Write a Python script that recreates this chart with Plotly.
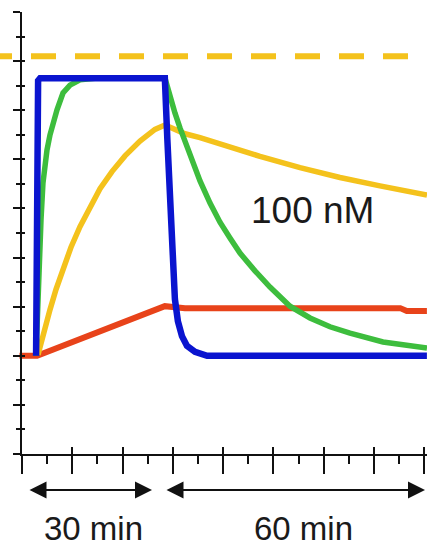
import plotly.graph_objects as go

# Time (min) and response (arbitrary units) for each analyte trace
blue_t = [2.8, 3.0, 3.2, 3.6, 28.4, 28.9, 29.4, 29.9, 30.4, 31.0, 31.8, 32.8, 34.4, 36.8, 80.5]
blue_r = [2.0, 7.4, 7.6, 7.65, 7.65, 6.4, 5.2, 3.95, 3.15, 2.7, 2.4, 2.2, 2.08, 2.0, 2.0]

green_t = [2.78, 2.98, 3.18, 3.38, 3.58, 3.78, 4.17, 4.57, 4.97, 5.57, 6.16, 6.96,
           8.15, 9.54, 11.53, 14.51, 28.43,
           29.42, 30.42, 31.41, 33.40, 35.39, 37.38, 39.36, 41.35, 43.34, 46.32,
           49.30, 53.28, 57.26, 61.23, 65.21, 71.77, 80.52]
green_r = [2.0, 2.73, 3.34, 3.91, 4.36, 4.77, 5.52, 5.89, 6.19, 6.50, 6.74, 7.01,
           7.35, 7.51, 7.62, 7.65, 7.65,
           7.27, 6.94, 6.64, 6.07, 5.56, 5.11, 4.72, 4.40, 4.09, 3.73,
           3.40, 3.01, 2.77, 2.59, 2.46, 2.28, 2.16]

yellow_t = [3.18, 3.78, 4.57, 5.57, 6.76, 8.15, 9.74, 11.53, 13.52, 15.51, 17.89,
            20.48, 23.46, 26.44, 28.43, 30.42, 32.41, 35.39, 41.35, 47.32, 55.27,
            63.22, 71.17, 80.52]
yellow_r = [2.02, 2.27, 2.58, 2.94, 3.35, 3.77, 4.21, 4.63, 5.04, 5.40, 5.75,
            6.07, 6.37, 6.61, 6.70, 6.60, 6.52, 6.44, 6.24, 6.06, 5.83,
            5.63, 5.46, 5.27]

red_t = [-0.5, 3.0, 28.4, 32.4, 75.2, 76.5, 80.5]
red_r = [2.0, 2.0, 3.01, 2.97, 2.97, 2.91, 2.91]

# Saturation level (dashed reference line)
rmax_t = [-4.374, 80.52]
rmax_r = [8.1, 8.1]

# Phase bars: association and dissociation
phase_labels = ["30 min", "60 min"]
phase_start = [1.19, 28.43]
phase_end = [25.85, 80.12]
phase_label_x = [14.2, 55.96]

conc_label = "100 nM"

BLUE = "#0a14cf"
GREEN = "#3dbd3d"
YELLOW = "#f4c21c"
RED = "#e8431a"
INK = "#1a1a1a"
FONT = "Liberation Sans, Arial, sans-serif"

fig = go.Figure()

fig.add_trace(go.Scatter(x=rmax_t, y=rmax_r, mode="lines",
                         line=dict(color=YELLOW, width=6, dash="12px,19px,13px,0px")))
fig.add_trace(go.Scatter(x=red_t, y=red_r, mode="lines",
                         line=dict(color=RED, width=6)))
fig.add_trace(go.Scatter(x=yellow_t, y=yellow_r, mode="lines",
                         line=dict(color=YELLOW, width=5.5)))
fig.add_trace(go.Scatter(x=green_t, y=green_r, mode="lines",
                         line=dict(color=GREEN, width=5.5)))
fig.add_trace(go.Scatter(x=blue_t, y=blue_r, mode="lines",
                         line=dict(color=BLUE, width=6.5)))

# empty traces so the axis frames get drawn
fig.add_trace(go.Scatter(x=[], y=[], xaxis="x2", yaxis="y2", hoverinfo="skip"))
fig.add_trace(go.Scatter(x=[], y=[], xaxis="x3", yaxis="y3", hoverinfo="skip"))

annotations = []
for s, e in zip(phase_start, phase_end):
    annotations.append(dict(
        x=e, y=-0.733, ax=s, ay=-0.733, xref="x", yref="y", axref="x", ayref="y",
        text="", showarrow=True, arrowside="end+start",
        arrowhead=2, startarrowhead=2, arrowsize=1.7, startarrowsize=1.7,
        arrowwidth=2, arrowcolor="#111", standoff=0, startstandoff=0))
for lab, lx in zip(phase_labels, phase_label_x):
    annotations.append(dict(
        x=lx, y=-1.51, xref="x", yref="y", text=lab, showarrow=False,
        font=dict(family=FONT, size=33, color=INK),
        xanchor="center", yanchor="middle"))
annotations.append(dict(
    x=57.85, y=4.95, xref="x", yref="y", text=conc_label, showarrow=False,
    font=dict(family=FONT, size=37, color=INK),
    xanchor="center", yanchor="middle"))

hidden = dict(visible=False, showgrid=False, zeroline=False)
fig.update_layout(
    width=427, height=548,
    margin=dict(l=0, r=0, t=0, b=0),
    paper_bgcolor="white", plot_bgcolor="rgba(0,0,0,0)",
    showlegend=False,
    xaxis=dict(domain=[0, 1], range=[-4.374, 80.52], **hidden),
    yaxis=dict(domain=[0, 1], range=[-1.914, 9.244], **hidden),
    xaxis2=dict(domain=[0.05152, 1], range=[0, 80.52], anchor="y2",
                showline=True, linecolor="#111", linewidth=2,
                ticks="outside", ticklen=18, tickwidth=2, tickcolor="#111",
                tick0=0, dtick=10, showticklabels=False,
                showgrid=False, zeroline=False,
                minor=dict(dtick=5, tick0=0, ticks="outside", ticklen=8,
                           tickwidth=2, tickcolor="#111", showgrid=False)),
    yaxis2=dict(domain=[0.17153, 0.97810], range=[0, 9], anchor="x2",
                showline=True, linecolor="#111", linewidth=2,
                ticks="outside", ticklen=7, tickwidth=2, tickcolor="#111",
                tick0=0, dtick=1, showticklabels=False,
                showgrid=False, zeroline=False,
                minor=dict(dtick=0.5, tick0=0, ticks="outside", ticklen=4,
                           tickwidth=2, tickcolor="#111", showgrid=False)),
    xaxis3=dict(overlaying="x2", anchor="y2", range=[0, 80.52],
                ticks="inside", ticklen=7, tickwidth=2, tickcolor="#111",
                tick0=0, dtick=10, showticklabels=False,
                showline=False, showgrid=False, zeroline=False),
    yaxis3=dict(overlaying="y2", anchor="x2", range=[0, 9],
                ticks="inside", ticklen=3, tickwidth=2, tickcolor="#111",
                tick0=0, dtick=1, showticklabels=False,
                showline=False, showgrid=False, zeroline=False,
                minor=dict(dtick=0.5, tick0=0, ticks="inside", ticklen=3,
                           tickwidth=2, tickcolor="#111", showgrid=False)),
    annotations=annotations,
)

fig.write_html("out.html")
